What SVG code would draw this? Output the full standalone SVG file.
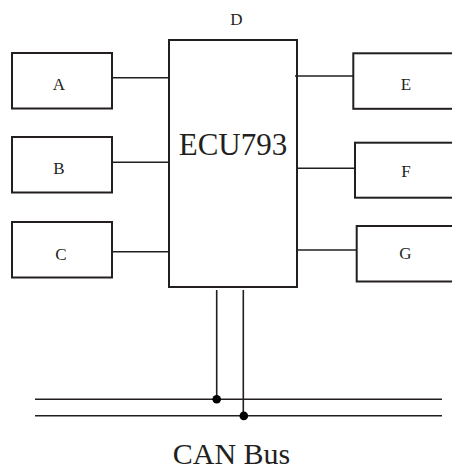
<svg xmlns="http://www.w3.org/2000/svg" width="452" height="470" viewBox="0 0 452 470">
<style>
.box{fill:none;stroke:#231f20;stroke-width:2}
.ln{fill:none;stroke:#231f20;stroke-width:1.6}
.t{font-family:"Liberation Serif","Times New Roman",serif;fill:#231f20;text-anchor:middle}
.s{font-size:17px}
.dot{fill:#000}
</style>
<rect width="452" height="470" fill="#fff"/>
<g id="A"><rect class="box" x="12" y="53" width="100" height="55.5"/><text class="t s" x="59" y="90">A</text></g>
<g id="B"><rect class="box" x="12" y="137" width="100" height="55.5"/><text class="t s" x="59" y="174">B</text></g>
<g id="C"><rect class="box" x="12" y="222" width="100" height="55.5"/><text class="t s" x="61" y="259.5">C</text></g>
<g id="D"><rect class="box" x="169" y="40" width="128" height="247"/><text class="t s" x="236.5" y="25">D</text><text class="t" style="font-size:31px" x="233" y="155">ECU793</text></g>
<g id="E"><rect class="box" x="353.3" y="53.3" width="110" height="55.5"/><text class="t s" x="406" y="90">E</text></g>
<g id="F"><rect class="box" x="355" y="142.7" width="110" height="55"/><text class="t s" x="406" y="177">F</text></g>
<g id="G"><rect class="box" x="356.7" y="226" width="110" height="55.5"/><text class="t s" x="405.5" y="259">G</text></g>
<g id="connectors">
<line class="ln" x1="112" y1="77.7" x2="169" y2="77.7"/>
<line class="ln" x1="112" y1="162.3" x2="169" y2="162.3"/>
<line class="ln" x1="112" y1="251.7" x2="169" y2="251.7"/>
<line class="ln" x1="295" y1="76" x2="353.3" y2="76"/>
<line class="ln" x1="297" y1="168.3" x2="355" y2="168.3"/>
<line class="ln" x1="297" y1="250" x2="356.7" y2="250"/>
<line class="ln" x1="216.7" y1="290" x2="216.7" y2="399.3"/>
<line class="ln" x1="243.3" y1="290" x2="243.3" y2="415.7"/>
<line class="ln" x1="35" y1="399.3" x2="442" y2="399.3"/>
<line class="ln" x1="35" y1="415.7" x2="442" y2="415.7"/>
<circle class="dot" cx="216.7" cy="399.3" r="4.3"/>
<circle class="dot" cx="243.8" cy="415.9" r="4.3"/>
</g>
<g id="CANBus"><text class="t" style="font-size:30px" x="231.5" y="463.5">CAN Bus</text></g>
</svg>
